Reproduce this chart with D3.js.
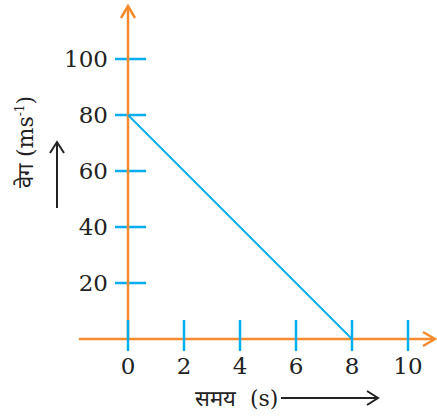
<!DOCTYPE html>
<html>
<head>
<meta charset="utf-8">
<script src="https://cdn.jsdelivr.net/npm/d3@7"></script>
<style>
  html, body { margin: 0; padding: 0; background: #fff; }
</style>
</head>
<body>
<div id="chart"></div>
<script>
const times = [0, 8];
const speeds = [80, 0];
const xTicks = [0, 2, 4, 6, 8, 10];
const yTicks = [20, 40, 60, 80, 100];
const xTitle = "समय  (s)";
const yTitle = "वेग (ms";

const W = 437, H = 419;
const orange = "#f58a2e", blue = "#00aeef";
const serif = "'DejaVu Serif', serif";

const x = d3.scaleLinear().domain([0, 10]).range([128, 408]);
const y = d3.scaleLinear().domain([0, 100]).range([339, 59]);

const svg = d3.select("#chart").append("svg")
  .attr("width", W)
  .attr("height", H)
  .style("display", "block");

// y ticks (blue, horizontal)
svg.append("g").selectAll("line")
  .data(yTicks)
  .enter().append("line")
  .attr("x1", x(0) - 13)
  .attr("x2", x(0) + 18)
  .attr("y1", d => y(d))
  .attr("y2", d => y(d))
  .attr("stroke", blue)
  .attr("stroke-width", 2.5);

// axes (orange)
svg.append("line")
  .attr("x1", x(0)).attr("x2", x(0))
  .attr("y1", y(0)).attr("y2", 7)
  .attr("stroke", orange).attr("stroke-width", 2.5);
svg.append("path")
  .attr("d", `M${x(0) - 7},${18} L${x(0)},${6} L${x(0) + 7},${18}`)
  .attr("fill", "none").attr("stroke", orange).attr("stroke-width", 2.5);

svg.append("line")
  .attr("x1", 79).attr("x2", 434)
  .attr("y1", y(0)).attr("y2", y(0))
  .attr("stroke", orange).attr("stroke-width", 2.5);
svg.append("path")
  .attr("d", `M${423},${y(0) - 7} L${435},${y(0)} L${423},${y(0) + 7}`)
  .attr("fill", "none").attr("stroke", orange).attr("stroke-width", 2.5);

// x ticks (blue, vertical)
svg.append("g").selectAll("line")
  .data(xTicks)
  .enter().append("line")
  .attr("x1", d => x(d))
  .attr("x2", d => x(d))
  .attr("y1", y(0) - 19)
  .attr("y2", y(0) + 12)
  .attr("stroke", blue)
  .attr("stroke-width", 2.5);

// data line
const line = d3.line().x(d => x(d[0])).y(d => y(d[1]));
svg.append("path")
  .datum(d3.zip(times, speeds))
  .attr("d", line)
  .attr("fill", "none")
  .attr("stroke", blue)
  .attr("stroke-width", 2);

// tick labels
svg.append("g").selectAll("text")
  .data(yTicks)
  .enter().append("text")
  .attr("x", 108)
  .attr("y", d => y(d) + 8)
  .attr("text-anchor", "end")
  .style("font-family", serif)
  .style("font-size", "23px")
  .style("fill", "#222")
  .text(d => d);

svg.append("g").selectAll("text")
  .data(xTicks)
  .enter().append("text")
  .attr("x", d => x(d))
  .attr("y", 374)
  .attr("text-anchor", "middle")
  .style("font-family", serif)
  .style("font-size", "23px")
  .style("fill", "#222")
  .text(d => d);

// y title
const yt = svg.append("text")
  .attr("transform", "translate(33,142) rotate(-90)")
  .attr("text-anchor", "middle")
  .style("font-family", serif)
  .style("font-size", "22px")
  .style("fill", "#222");
yt.append("tspan").text(yTitle);
yt.append("tspan").attr("dy", -9).style("font-size", "12px").text("-1");
yt.append("tspan").attr("dy", 9).text(")");

// y arrow
svg.append("line")
  .attr("x1", 57).attr("x2", 57).attr("y1", 208).attr("y2", 143)
  .attr("stroke", "#222").attr("stroke-width", 2);
svg.append("path")
  .attr("d", "M50,153 L57,142 L64,153")
  .attr("fill", "none").attr("stroke", "#222").attr("stroke-width", 2);

// x title
svg.append("text")
  .attr("x", 195)
  .attr("y", 406)
  .style("font-family", serif)
  .style("font-size", "22px")
  .style("fill", "#222")
  .style("white-space", "pre")
  .text(xTitle);

// x arrow
svg.append("line")
  .attr("x1", 281).attr("x2", 377).attr("y1", 398).attr("y2", 398)
  .attr("stroke", "#222").attr("stroke-width", 2);
svg.append("path")
  .attr("d", "M367,391 L378,398 L367,405")
  .attr("fill", "none").attr("stroke", "#222").attr("stroke-width", 2);
</script>
</body>
</html>
